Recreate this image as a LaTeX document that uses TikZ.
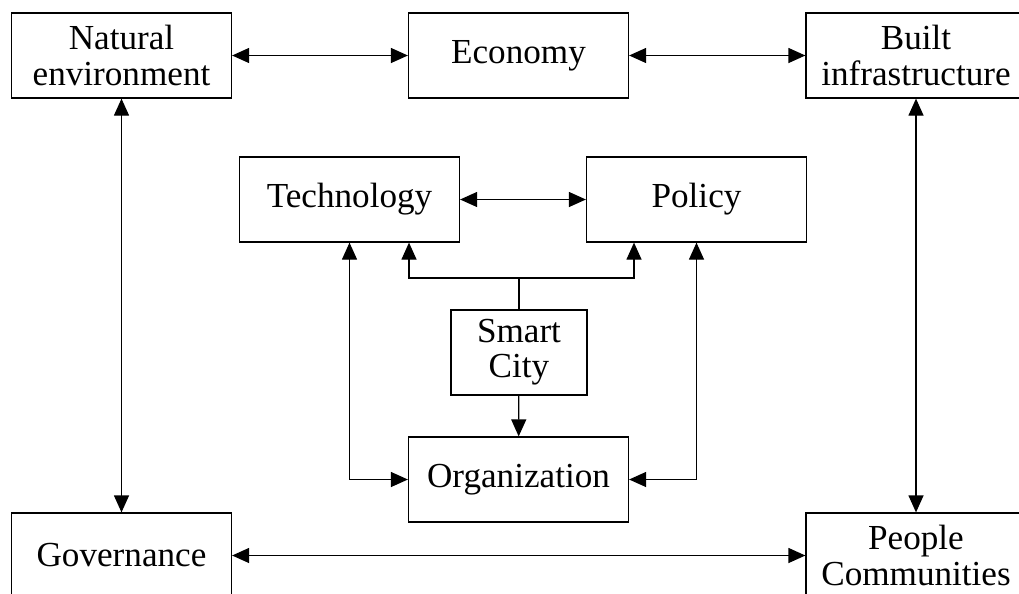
\documentclass[tikz,border=0pt]{standalone}
\usepackage{fontspec}
\setmainfont{Liberation Serif}
\usepackage{tikz}
\usetikzlibrary{positioning, calc, arrows.meta}

\begin{document}
\begin{tikzpicture}[line width=0.7pt, >={Triangle[length=3.4mm,width=3mm]},
    box/.style={draw, minimum width=4.4cm, minimum height=1.7cm, align=center,
        font=\fontsize{20}{20}\selectfont}]
    \useasboundingbox (0,0) rectangle (20.38,-11.86);
    \clip (0,0) rectangle (20.38,-11.86);
    \node[box] (nat) at (2.43,-1.11) {Natural\\environment};
    \node[box] (eco) at (10.37,-1.11) {Economy};
    \node[box] (built) at (18.32,-1.11) {Built\\infrastructure};
    \node[box] (tech) at (6.99,-3.99) {Technology};
    \node[box] (pol) at (13.93,-3.99) {Policy};
    \node[box, minimum width=2.72cm] (smart) at (10.38,-7.05) {Smart\\City};
    \node[box] (org) at (10.37,-9.59) {Organization};
    \node[box] (gov) at (2.43,-11.11) {Governance};
    \node[box] (ppl) at (18.32,-11.11) {People\\Communities};
    \coordinate (j) at (10.38,-5.56);
    \draw[<->] (nat) -- (eco);
    \draw[<->] (eco) -- (built);
    \draw[<->] (tech) -- (pol);
    \draw[<->] (nat) -- (gov);
    \draw[<->] (built) -- (ppl);
    \draw[<->] (gov) -- (ppl);
    \draw (smart.north) -- (j);
    \draw[->] (j) -| ([xshift=1.19cm]tech.south);
    \draw[->] (j) -| ([xshift=-1.25cm]pol.south);
    \draw[->] (smart) -- (org);
    \draw[<->] (tech.south) |- (org.west);
    \draw[<->] (pol.south) |- (org.east);
\end{tikzpicture}
\end{document}
